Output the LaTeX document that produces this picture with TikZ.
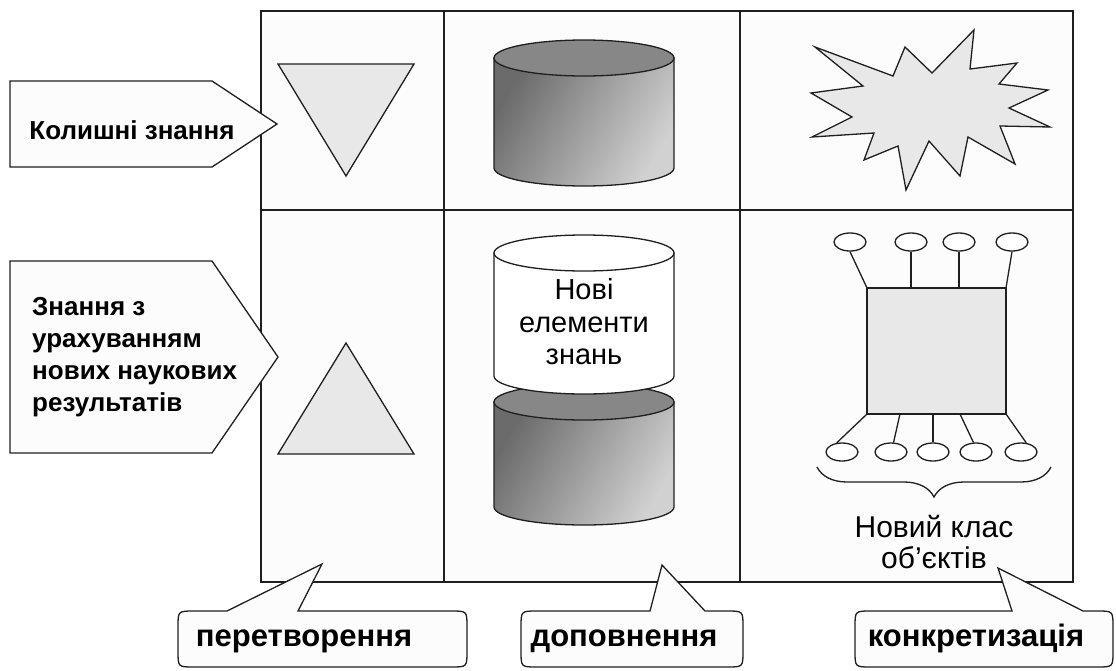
\documentclass[tikz,border=0pt]{standalone}
\usepackage{fontspec}
\setmainfont{Liberation Sans}
\usetikzlibrary{shapes.geometric,decorations.pathreplacing,calc}
\begin{document}
\begin{tikzpicture}[x=1pt,y=-1pt,
  ln/.style={line width=1.3pt, draw=black!88},
  cellbg/.style={fill=black!1},
  lightshape/.style={ln, fill=black!9},
  tag/.style={ln, fill=black!1, line join=miter},
  boldlbl/.style={font=\bfseries\fontsize{26}{32}\selectfont, inner sep=0pt},
  bottomlbl/.style={font=\bfseries\fontsize{31}{36}\selectfont, inner sep=0pt},
  plainlbl/.style={font=\fontsize{29}{32.5}\selectfont, inner sep=0pt, align=center},
  classlbl/.style={font=\fontsize{30}{31}\selectfont, inner sep=0pt, align=center},
  ell/.style={ellipse, ln, fill=white, minimum width=32pt, minimum height=18pt, inner sep=0pt},
  cylside/.style={ln, left color=black!58, right color=black!18, shading angle=60},
  cyltop/.style={ln, fill=black!47},
  cylwhite/.style={ln, fill=white},
]
\useasboundingbox (0,0) rectangle (1116,670);
\fill[white] (0,0) rectangle (1116,670);
% grid
\path[cellbg] (261,11) rectangle (1073,582);
\draw[ln] (261,11) rectangle (1073,582);
\draw[ln] (261,210) -- (1073,210);
\draw[ln] (444,11) -- (444,582);
\draw[ln] (740,11) -- (740,582);
% triangles
\draw[lightshape] (278,64) -- (414,64) -- (346,176) -- cycle;
\draw[lightshape] (346,343) -- (414,454) -- (278,454) -- cycle;
% top gray cylinder
\draw[cylside] (494,58) -- (494,168) arc[start angle=180, end angle=0, x radius=90, y radius=18] -- (674,58) -- cycle;
\draw[cyltop] (584,58) ellipse [x radius=90, y radius=18];
% lower gray cylinder
\draw[cylside] (494,402) -- (494,507) arc[start angle=180, end angle=0, x radius=90, y radius=18] -- (674,402) -- cycle;
\draw[cyltop] (584,402) ellipse [x radius=90, y radius=18];
% white cylinder
\draw[cylwhite] (494,253) -- (494,376) arc[start angle=180, end angle=0, x radius=90, y radius=18] -- (674,253) -- cycle;
\draw[cylwhite] (584,253) ellipse [x radius=90, y radius=18];
\node[plainlbl] (elem) at (584,322) {Нові\\елементи\\знань};
% starburst
\draw[lightshape, line join=miter] (815,47) -- (893,76) -- (905,47) -- (932,73) -- (974,30) -- (970,69)
  -- (1017,63) -- (999,84) -- (1048,90) -- (1009,108) -- (1050,127) -- (1000,126)
  -- (1015,164) -- (968,137) -- (960,176) -- (929,141) -- (906,190) -- (898,146)
  -- (864,160) -- (874,133) -- (812,137) -- (852,117) -- (811,93) -- (863,86) -- cycle;
% network
\node[ln, fill=black!9, minimum width=139pt, minimum height=126pt, inner sep=0pt, outer sep=0pt] (sq) at (936.5,351) {};
\node[ell] (t1) at (850,242) {};
\node[ell] (t2) at (911,242) {};
\node[ell] (t3) at (959,242) {};
\node[ell] (t4) at (1012,242) {};
\node[ell] (b1) at (842,452) {};
\node[ell] (b2) at (891,452) {};
\node[ell] (b3) at (933,452) {};
\node[ell] (b4) at (976,452) {};
\node[ell] (b5) at (1021,452) {};
\draw[ln] (t1.south) -- (sq.north west);
\draw[ln] (t2.south) -- (t2.south |- sq.north);
\draw[ln] (t3.south) -- (t3.south |- sq.north);
\draw[ln] (t4.south) -- (sq.north east);
\draw[ln] (sq.south west) -- (b1.120);
\draw[ln] ($(sq.south west)!0.237!(sq.south east)$) -- (b2.75);
\draw[ln] (b3.north |- sq.south) -- (b3.north);
\draw[ln] ($(sq.south west)!0.669!(sq.south east)$) -- (b4.105);
\draw[ln] (sq.south east) -- (b5.60);
\draw[ln, decorate, decoration={brace, amplitude=30pt}] (1051,467) -- (817,467);
\node[classlbl] (cls) at (934,542) {Новий клас\\об’єктів};
% left tags
\draw[tag] (10,81) -- (212,81) -- (277,124) -- (212,167) -- (10,167) -- cycle;
\node[boldlbl, anchor=base] (old) at (132,139) {Колишні знання};
\draw[tag] (10,261) -- (212,261) -- (278,357) -- (212,453) -- (10,453) -- cycle;
\node[boldlbl, align=left, anchor=west] (new) at (32,357) {Знання з\\урахуванням\\нових наукових\\результатів};
% callouts
\draw[tag] (178,627) .. controls (178,611) .. (194,611) -- (227,611) -- (322,564) -- (298,611) -- (451,611)
  .. controls (467,611) .. (467,627) -- (467,651) .. controls (467,667) .. (451,667) -- (194,667)
  .. controls (178,667) .. (178,651) -- cycle;
\node[bottomlbl, anchor=base] (c1) at (304,646) {перетворення};
\draw[tag] (521,627) .. controls (521,611) .. (537,611) -- (650,611) -- (662,565) -- (705,611) -- (727,611)
  .. controls (743,611) .. (743,627) -- (743,651) .. controls (743,667) .. (727,667) -- (537,667)
  .. controls (521,667) .. (521,651) -- cycle;
\node[bottomlbl, anchor=base] (c2) at (624,646) {доповнення};
\draw[tag] (855,627) .. controls (855,611) .. (871,611) -- (1012,611) -- (998,568) -- (1083,611) -- (1097,611)
  .. controls (1113,611) .. (1113,627) -- (1113,651) .. controls (1113,667) .. (1097,667) -- (871,667)
  .. controls (855,667) .. (855,651) -- cycle;
\node[bottomlbl, anchor=base] (c3) at (976,646) {конкретизація};
\end{tikzpicture}
\end{document}
